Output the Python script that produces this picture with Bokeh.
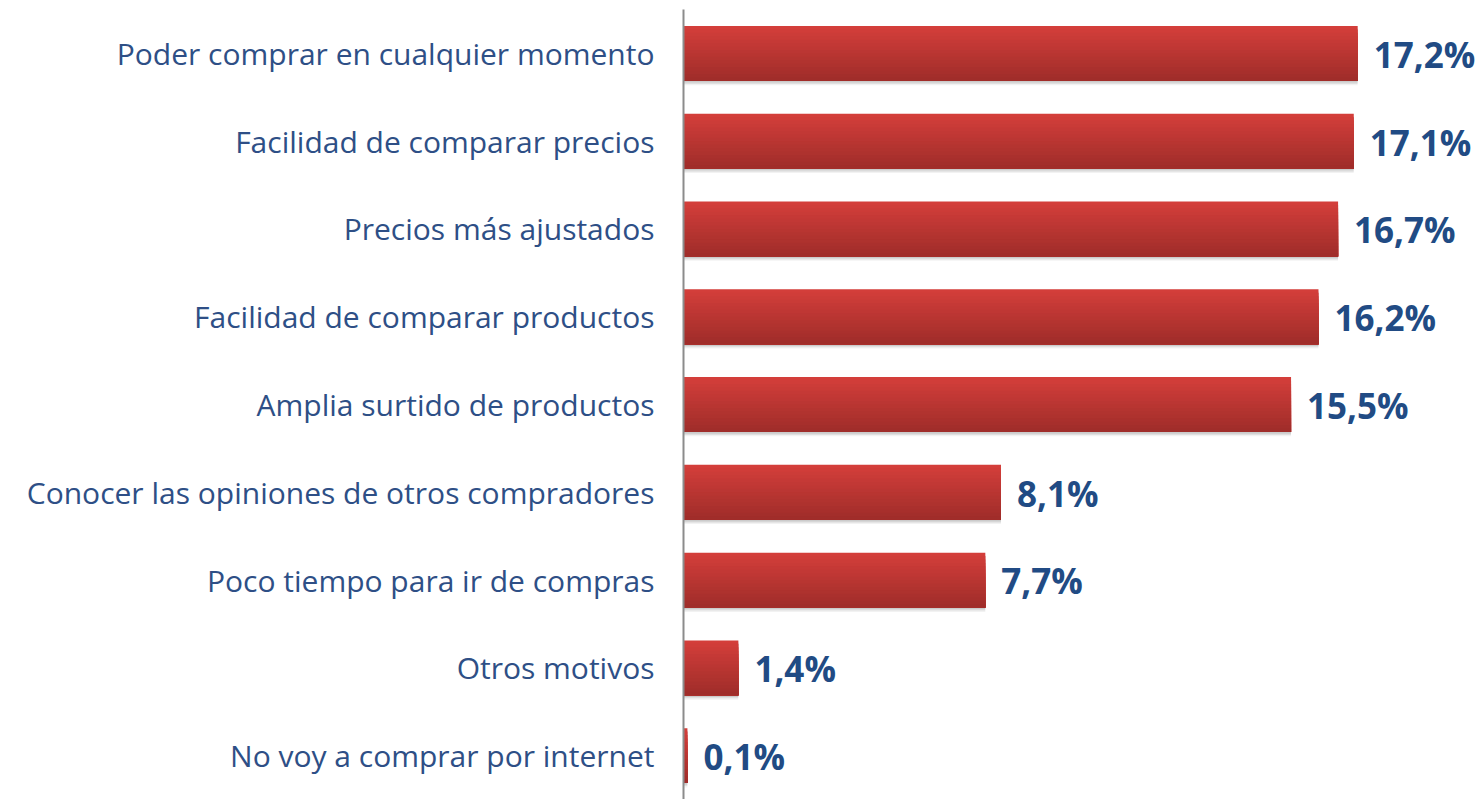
from bokeh.plotting import figure
from bokeh.models import FactorRange, Range1d, ColumnDataSource
from bokeh.transform import dodge
from bokeh.core.properties import value
from bokeh.embed import file_html
from bokeh.resources import INLINE

categories = [
    "Poder comprar en cualquier momento",
    "Facilidad de comparar precios",
    "Precios más ajustados",
    "Facilidad de comparar productos",
    "Amplia surtido de productos",
    "Conocer las opiniones de otros compradores",
    "Poco tiempo para ir de compras",
    "Otros motivos",
    "No voy a comprar por internet",
]
values = [17.2, 17.1, 16.7, 16.2, 15.5, 8.1, 7.7, 1.4, 0.1]
labels = ["17,2%", "17,1%", "16,7%", "16,2%", "15,5%", "8,1%", "7,7%", "1,4%", "0,1%"]

FONT = "Open Sans"
LABEL_COLOR = "#2E4F86"
VALUE_COLOR = "#214B84"

src = ColumnDataSource(dict(cat=categories, val=values, lab=labels))

p = figure(
    width=1483, height=799,
    y_range=FactorRange(*reversed(categories), range_padding=0),
    x_range=Range1d(0, 20.41),
    output_backend="svg", toolbar_location=None,
    min_border_left=683, min_border_right=0, min_border_top=9, min_border_bottom=0,
)
p.outline_line_color = None
p.grid.visible = False
p.xaxis.visible = False
p.background_fill_color = "white"
p.border_fill_color = "white"

yax = p.yaxis[0]
yax.axis_line_color = "#8C8C8C"
yax.axis_line_width = 2
yax.major_tick_line_color = None
yax.minor_tick_line_color = None
yax.major_label_text_font = FONT
yax.major_label_text_font_size = "30px"
yax.major_label_text_color = LABEL_COLOR
yax.major_label_standoff = 23

BAR_H = 0.625

# soft shadow
for off, a in [(-0.05, 0.05), (-0.035, 0.07), (-0.02, 0.09)]:
    p.hbar(y=dodge("cat", off, range=p.y_range), right="val", left=0, height=BAR_H,
           source=src, fill_color="#000000", fill_alpha=a, line_color=None)

# gradient bar: stacked layers, each reaching the bar bottom (top lighter, bottom darker)
N = 16
top = (0xD3, 0x3E, 0x3A)
bot = (0xA0, 0x2D, 0x2A)
s = BAR_H / N
for i in range(N):
    t = i / (N - 1)
    col = "#%02X%02X%02X" % tuple(int(round(top[k] + (bot[k] - top[k]) * t)) for k in range(3))
    upper = BAR_H / 2 - i * s
    lower = -BAR_H / 2
    p.hbar(y=dodge("cat", (upper + lower) / 2, range=p.y_range), right="val", left=0,
           height=upper - lower, source=src, fill_color=col, line_color=None)

p.text(x="val", y=dodge("cat", -0.01, range=p.y_range), text="lab", source=src,
       x_offset=16, text_baseline="middle", text_align="left",
       text_font=value(FONT), text_font_style="bold", text_font_size="35px",
       text_color=VALUE_COLOR)

open("out.html", "w").write(file_html(p, INLINE))
